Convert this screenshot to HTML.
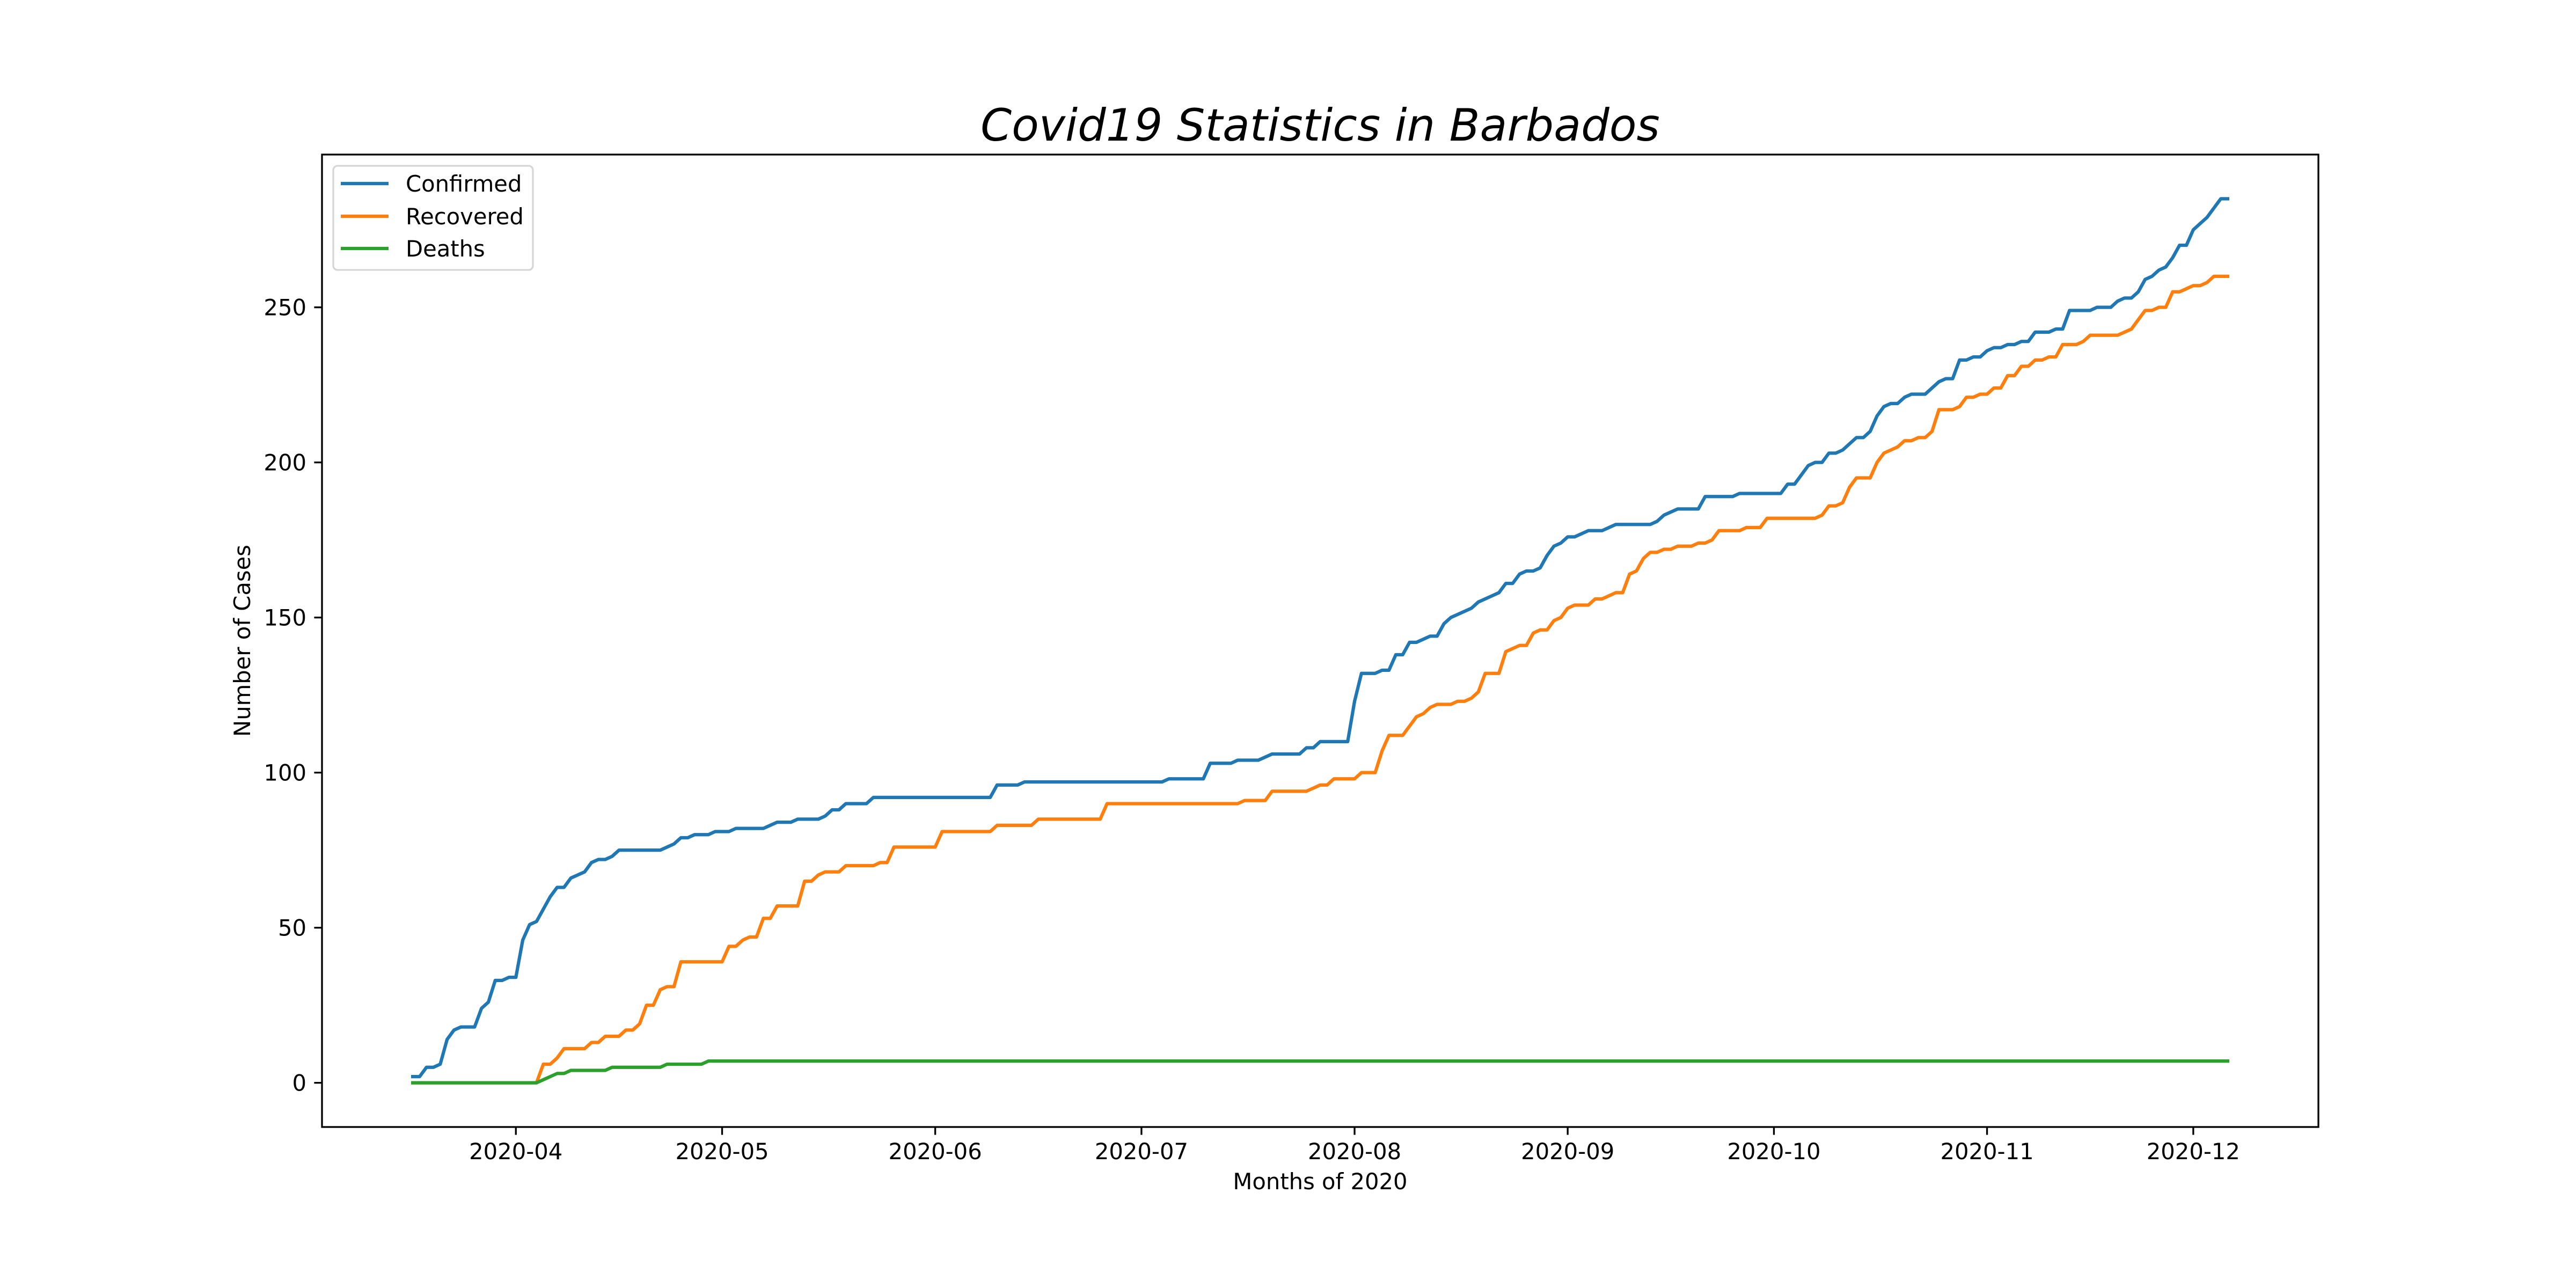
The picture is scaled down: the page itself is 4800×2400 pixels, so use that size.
<!DOCTYPE html>
<html><head><meta charset="utf-8">
<style>html,body{margin:0;padding:0;background:#fff}svg{display:block}</style>
</head><body>
<svg id="chart" xmlns="http://www.w3.org/2000/svg" width="4800" height="2400" viewBox="0 0 4800 2400" font-family="DejaVu Sans, Liberation Sans, sans-serif">
<rect width="4800" height="2400" fill="#fff"/>
<text x="2460" y="262" text-anchor="middle" font-size="83" font-style="italic">Covid19 Statistics in Barbados</text>
<g id="plot"></g>
<text x="2460" y="2216" text-anchor="middle" font-size="41.7">Months of 2020</text>
<text x="0" y="0" transform="translate(466,1194) rotate(-90)" text-anchor="middle" font-size="41.7">Number of Cases</text>
</svg>
<script>
const startDate = "2020-03-17";
const seriesNames = ["Confirmed","Recovered","Deaths"];
const confirmed = [2,2,5,5,6,14,17,18,18,18,
24,26,33,33,34,34,46,51,52,56,
60,63,63,66,67,68,71,72,72,73,
75,75,75,75,75,75,75,76,77,79,
79,80,80,80,81,81,81,82,82,82,
82,82,83,84,84,84,85,85,85,85,
86,88,88,90,90,90,90,92,92,92,
92,92,92,92,92,92,92,92,92,92,
92,92,92,92,92,96,96,96,96,97,
97,97,97,97,97,97,97,97,97,97,
97,97,97,97,97,97,97,97,97,97,
98,98,98,98,98,98,103,103,103,103,
104,104,104,104,105,106,106,106,106,106,
108,108,110,110,110,110,110,123,132,132,
132,133,133,138,138,142,142,143,144,144,
148,150,151,152,153,155,156,157,158,161,
161,164,165,165,166,170,173,174,176,176,
177,178,178,178,179,180,180,180,180,180,
180,181,183,184,185,185,185,185,189,189,
189,189,189,190,190,190,190,190,190,190,
193,193,196,199,200,200,203,203,204,206,
208,208,210,215,218,219,219,221,222,222,
222,224,226,227,227,233,233,234,234,236,
237,237,238,238,239,239,242,242,242,243,
243,249,249,249,249,250,250,250,252,253,
253,255,259,260,262,263,266,270,270,275,
277,279,282,285,285];
const recovered = [0,0,0,0,0,0,0,0,0,0,
0,0,0,0,0,0,0,0,0,6,
6,8,11,11,11,11,13,13,15,15,
15,17,17,19,25,25,30,31,31,39,
39,39,39,39,39,39,44,44,46,47,
47,53,53,57,57,57,57,65,65,67,
68,68,68,70,70,70,70,70,71,71,
76,76,76,76,76,76,76,81,81,81,
81,81,81,81,81,83,83,83,83,83,
83,85,85,85,85,85,85,85,85,85,
85,90,90,90,90,90,90,90,90,90,
90,90,90,90,90,90,90,90,90,90,
90,91,91,91,91,94,94,94,94,94,
94,95,96,96,98,98,98,98,100,100,
100,107,112,112,112,115,118,119,121,122,
122,122,123,123,124,126,132,132,132,139,
140,141,141,145,146,146,149,150,153,154,
154,154,156,156,157,158,158,164,165,169,
171,171,172,172,173,173,173,174,174,175,
178,178,178,178,179,179,179,182,182,182,
182,182,182,182,182,183,186,186,187,192,
195,195,195,200,203,204,205,207,207,208,
208,210,217,217,217,218,221,221,222,222,
224,224,228,228,231,231,233,233,234,234,
238,238,238,239,241,241,241,241,241,242,
243,246,249,249,250,250,255,255,256,257,
257,258,260,260,260];
const deaths = [0,0,0,0,0,0,0,0,0,0,
0,0,0,0,0,0,0,0,0,1,
2,3,3,4,4,4,4,4,4,5,
5,5,5,5,5,5,5,6,6,6,
6,6,6,7,7,7,7,7,7,7,
7,7,7,7,7,7,7,7,7,7,
7,7,7,7,7,7,7,7,7,7,
7,7,7,7,7,7,7,7,7,7,
7,7,7,7,7,7,7,7,7,7,
7,7,7,7,7,7,7,7,7,7,
7,7,7,7,7,7,7,7,7,7,
7,7,7,7,7,7,7,7,7,7,
7,7,7,7,7,7,7,7,7,7,
7,7,7,7,7,7,7,7,7,7,
7,7,7,7,7,7,7,7,7,7,
7,7,7,7,7,7,7,7,7,7,
7,7,7,7,7,7,7,7,7,7,
7,7,7,7,7,7,7,7,7,7,
7,7,7,7,7,7,7,7,7,7,
7,7,7,7,7,7,7,7,7,7,
7,7,7,7,7,7,7,7,7,7,
7,7,7,7,7,7,7,7,7,7,
7,7,7,7,7,7,7,7,7,7,
7,7,7,7,7,7,7,7,7,7,
7,7,7,7,7,7,7,7,7,7,
7,7,7,7,7,7,7,7,7,7,
7,7,7,7,7];
const yTicks = [0,50,100,150,200,250];
const xTickDates = ["2020-04-01","2020-05-01","2020-06-01","2020-07-01","2020-08-01","2020-09-01","2020-10-01","2020-11-01","2020-12-01"];
const xTickLabels = ["2020-04","2020-05","2020-06","2020-07","2020-08","2020-09","2020-10","2020-11","2020-12"];
const colors = ["#1f77b4","#ff7f0e","#2ca02c"];

const NS="http://www.w3.org/2000/svg";
const L=600,R=4320,T=288,B=2100;
const DAY=86400000;
const t0=Date.parse(startDate+"T00:00:00Z");
const all=[confirmed,recovered,deaths];
const n=Math.max(confirmed.length,recovered.length,deaths.length);
const span=n-1;
const xmin=-0.05*span,xmax=span*1.05;
let vmax=-Infinity,vmin=Infinity;
all.forEach(a=>a.forEach(v=>{vmax=Math.max(vmax,v);vmin=Math.min(vmin,v);}));
const ymin=vmin-0.05*(vmax-vmin),ymax=vmax+0.05*(vmax-vmin);
function xs(d){return L+(d-xmin)/(xmax-xmin)*(R-L);}
function ys(v){return B-(v-ymin)/(ymax-ymin)*(B-T);}
function dayOf(s){return (Date.parse(s+"T00:00:00Z")-t0)/DAY;}
const g=document.getElementById("plot");
function mk(tag,attrs){const e=document.createElementNS(NS,tag);for(const k in attrs)e.setAttribute(k,attrs[k]);return e;}

// series
all.forEach((arr,si)=>{
  const pts=arr.map((v,i)=>xs(i).toFixed(2)+","+ys(v).toFixed(2)).join(" ");
  const pl=mk("polyline",{points:pts,fill:"none",stroke:colors[si],"stroke-width":6.25,"stroke-linejoin":"round","stroke-linecap":"square"});
  
  
  g.appendChild(pl);
});
// y ticks
yTicks.forEach(v=>{
  const y=ys(v);
  const tk=mk("line",{x1:L-14.6,x2:L,y1:y,y2:y,stroke:"#000","stroke-width":3.3});
  
  
  g.appendChild(tk);
  const tx=mk("text",{x:L-29,y:y+15,"text-anchor":"end","font-size":41.7});
  tx.textContent=v;
  
  
  g.appendChild(tx);
});
// x ticks
xTickDates.forEach((d,i)=>{
  const x=xs(dayOf(d));
  const tk=mk("line",{x1:x,x2:x,y1:B,y2:B+14.6,stroke:"#000","stroke-width":3.3});
  
  
  g.appendChild(tk);
  const tx=mk("text",{x:x,y:B+60,"text-anchor":"middle","font-size":41.7});
  tx.textContent=xTickLabels[i];
  
  
  g.appendChild(tx);
});
// frame
const fr=mk("rect",{x:L,y:T,width:R-L,height:B-T,fill:"none",stroke:"#000","stroke-width":3.3});


g.appendChild(fr);
// legend
const lg=mk("g",{});


g.appendChild(lg);
const lb=mk("rect",{x:621,y:309,width:372,height:194,rx:8,fill:"#fff","fill-opacity":0.8,stroke:"#d6d6d6","stroke-width":3.3});


lg.appendChild(lb);
const rowsY=[342,403,463];
seriesNames.forEach((nm,i)=>{
  const ln=mk("line",{x1:635,x2:724,y1:rowsY[i],y2:rowsY[i],stroke:colors[i],"stroke-width":6.25});
  
  
  lg.appendChild(ln);
  const tx=mk("text",{x:756,y:rowsY[i]+15,"font-size":41.7});
  tx.textContent=nm;
  
  
  lg.appendChild(tx);
});
</script>
</body></html>
